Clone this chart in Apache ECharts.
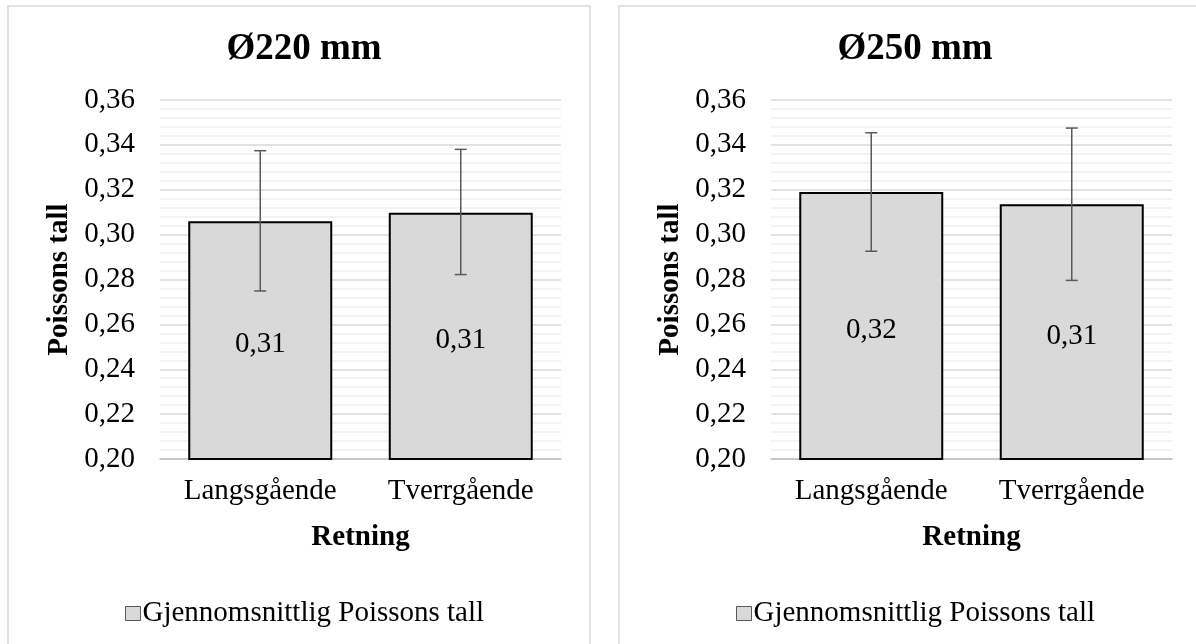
<!DOCTYPE html>
<html>
<head>
<meta charset="utf-8">
<script src="https://cdn.jsdelivr.net/npm/echarts@6/dist/echarts.min.js"></script>
<style>
html,body{margin:0;padding:0;background:#fff;}
#c{width:1196px;height:644px;}
</style>
</head>
<body>
<div id="c"></div>
<script>
const categories = ['Langsgående', 'Tverrgående'];
const titles = ['Ø220 mm', 'Ø250 mm'];
const seriesName = 'Gjennomsnittlig Poissons tall';
const mean220 = [0.306, 0.3098];
const errLow220 = [0.2749, 0.2822];
const errHigh220 = [0.3374, 0.3380];
const mean250 = [0.319, 0.3135];
const errLow250 = [0.2926, 0.2796];
const errHigh250 = [0.3454, 0.3475];
const yTicks = [0.20, 0.22, 0.24, 0.26, 0.28, 0.30, 0.32, 0.34, 0.36];

const FONT = '"Liberation Serif", "Times New Roman", serif';
const fmt = v => v.toFixed(2).replace('.', ',');

const panels = [
  {mean: mean220, lo: errLow220, hi: errHigh220, title: titles[0], gridLeft: 160, box: 8},
  {mean: mean250, lo: errLow250, hi: errHigh250, title: titles[1], gridLeft: 771, box: 619}
];

const option = {
  backgroundColor: '#ffffff',
  animation: false,
  textStyle: {fontFamily: FONT},
  graphic: panels.map(p => ({
    type: 'rect', shape: {x: p.box, y: 6, width: 582, height: 660},
    style: {fill: 'none', stroke: '#d9d9d9', lineWidth: 1.5}, z: -1
  })),
  title: panels.map(p => ({
    text: p.title, left: p.box + 291, top: 26, textAlign: 'center',
    textStyle: {fontFamily: FONT, fontWeight: 'bold', fontSize: 37, color: '#000'}
  })),
  legend: panels.map((p, i) => ({
    data: [seriesName], left: p.box + 112, top: 594,
    itemWidth: 15, itemHeight: 14, itemGap: 4,
    icon: 'rect',
    itemStyle: {color: '#d9d9d9', borderColor: '#595959', borderWidth: 1},
    textStyle: {fontFamily: FONT, fontSize: 29, color: '#000', padding: [0, 0, 0, -3]}
  })),
  grid: panels.map(p => ({left: p.gridLeft, width: 401, top: 100, height: 359})),
  xAxis: panels.map((p, i) => ({
    type: 'category', gridIndex: i, data: categories,
    name: 'Retning', nameLocation: 'middle', nameGap: 64,
    nameTextStyle: {fontFamily: FONT, fontWeight: 'bold', fontSize: 29, color: '#000'},
    axisLine: {lineStyle: {color: '#bfbfbf', width: 1.5}},
    axisTick: {show: false},
    axisLabel: {fontFamily: FONT, fontSize: 29, color: '#000', margin: 18}
  })),
  yAxis: panels.map((p, i) => ({
    type: 'value', gridIndex: i, min: 0.20, max: 0.36, interval: 0.02,
    name: 'Poissons tall', nameLocation: 'middle', nameGap: 86,
    nameTextStyle: {fontFamily: FONT, fontWeight: 'bold', fontSize: 29, color: '#000'},
    axisLine: {show: false}, axisTick: {show: false},
    axisLabel: {fontFamily: FONT, fontSize: 29, color: '#000', margin: 25,
      formatter: v => fmt(v)},
    splitLine: {lineStyle: {color: '#d9d9d9', width: 1.5}},
    minorTick: {show: false, splitNumber: 5},
    minorSplitLine: {show: true, lineStyle: {color: '#f0f0f0', width: 1.5}}
  })),
  series: []
};

panels.forEach((p, i) => {
  option.series.push({
    name: seriesName, type: 'bar', xAxisIndex: i, yAxisIndex: i,
    data: p.mean, barWidth: 144,
    itemStyle: {color: '#d9d9d9', borderColor: '#000', borderWidth: 2},
    label: {show: true, position: 'inside', offset: [0, 4], fontFamily: FONT, fontSize: 29, color: '#000',
      formatter: d => fmt(d.value)},
    z: 2
  });
  option.series.push({
    name: 'err' + i, type: 'custom', xAxisIndex: i, yAxisIndex: i,
    data: categories.map((c, k) => [k, p.lo[k], p.hi[k]]),
    encode: {x: 0, y: [1, 2]},
    z: 5,
    renderItem: function (params, api) {
      const x = api.value(0);
      const top = api.coord([x, api.value(2)]);
      const bot = api.coord([x, api.value(1)]);
      const hw = 6;
      const st = {stroke: '#595959', lineWidth: 1.5, fill: 'none'};
      return {type: 'group', children: [
        {type: 'line', shape: {x1: top[0], y1: top[1], x2: bot[0], y2: bot[1]}, style: st},
        {type: 'line', shape: {x1: top[0] - hw, y1: top[1], x2: top[0] + hw, y2: top[1]}, style: st},
        {type: 'line', shape: {x1: bot[0] - hw, y1: bot[1], x2: bot[0] + hw, y2: bot[1]}, style: st}
      ]};
    }
  });
});

const chart = echarts.init(document.getElementById('c'), null, {renderer: 'canvas'});
chart.setOption(option);
</script>
</body>
</html>
